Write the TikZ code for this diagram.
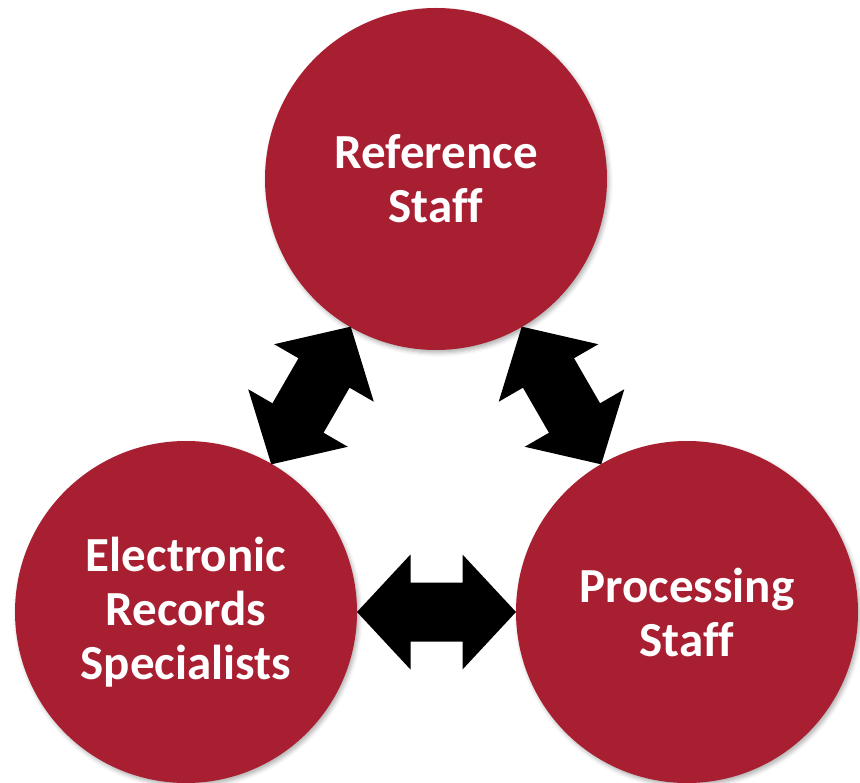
\documentclass[tikz,border=0pt]{standalone}
\usepackage{fontspec}
\setmainfont[Ligatures=NoCommon]{Carlito}
\usetikzlibrary{calc,shadows.blur}
\definecolor{crimson}{RGB}{169,31,50}
\newcommand\dblarrowpath{(-79.5,0) -- (-26,57.5) -- (-26,29.5) -- (26,29.5) -- (26,57.5) -- (79.5,0) -- (26,-57.5) -- (26,-29.5) -- (-26,-29.5) -- (-26,-57.5) -- cycle}
\begin{document}
\begin{tikzpicture}[x=1pt,y=1pt,
  staff/.style={circle, fill=crimson, minimum size=342pt, inner sep=0pt,
    text=white, font=\fontsize{49}{54}\selectfont\bfseries, align=center,
    blur shadow={shadow xshift=2pt, shadow yshift=-3pt, shadow blur radius=4pt, shadow opacity=30}},
  dblarrow/.style={fill=black}]
\useasboundingbox (0,0) rectangle (860,-783);
\node[staff] (T) at (436,-179) {Reference\\Staff};
\node[staff] (L) at (186,-612) {Electronic\\Records\\Specialists};
\node[staff] (P) at (687,-612) {Processing\\Staff};
\begin{scope}[shift={($(L.60)!0.5!(T.240)$)}, rotate=60]
  \fill[dblarrow] \dblarrowpath;
\end{scope}
\begin{scope}[shift={($(P.120)!0.5!(T.300)$)}, rotate=120]
  \fill[dblarrow] \dblarrowpath;
\end{scope}
\begin{scope}[shift={($(L.0)!0.5!(P.180)$)}]
  \fill[dblarrow] \dblarrowpath;
\end{scope}
\end{tikzpicture}
\end{document}
